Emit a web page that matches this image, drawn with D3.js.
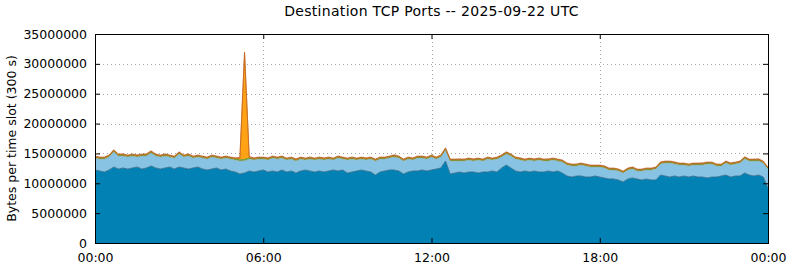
<!DOCTYPE html>
<html><head><meta charset="utf-8">
<script src="https://cdn.jsdelivr.net/npm/d3@7"></script>
<style>body{margin:0;background:#fff} svg{display:block} text{font-family:"DejaVu Sans",sans-serif;fill:#000}</style>
</head><body><svg id="c" width="790" height="267"></svg>
<script>
const title = "Destination TCP Ports -- 2025-09-22 UTC";
const yLabel = "Bytes per time slot (300 s)";
// time of each sample, minutes after 00:00 (10-minute samples)
const slotMinutes = d3.range(0, 1441, 10);
const xTickValues = [0, 360, 720, 1080, 1440];
const xTickLabels = ["00:00", "06:00", "12:00", "18:00", "00:00"];
const yTickValues = [0, 5e6, 10e6, 15e6, 20e6, 25e6, 30e6, 35e6];
const yTickLabels = ["0", "5000000", "10000000", "15000000", "20000000", "25000000", "30000000", "35000000"];
const seriesNames = ["dark", "light", "green", "orange", "red"];

const darkBlue = [
12.23e6,12.06e6,11.89e6,12.23e6,12.73e6,12.39e6,12.56e6,12.39e6,12.56e6,12.73e6,
12.39e6,12.56e6,12.90e6,12.56e6,12.39e6,12.56e6,12.73e6,12.39e6,12.73e6,12.56e6,
12.39e6,12.56e6,12.73e6,12.39e6,12.23e6,12.39e6,12.56e6,12.23e6,12.39e6,12.06e6,
11.89e6,11.56e6,11.72e6,12.06e6,11.89e6,12.06e6,12.23e6,11.89e6,12.06e6,11.89e6,
12.23e6,11.89e6,12.06e6,11.72e6,12.06e6,12.23e6,12.06e6,11.89e6,12.06e6,11.89e6,
12.06e6,12.23e6,12.06e6,12.23e6,11.72e6,11.89e6,12.06e6,12.23e6,12.06e6,11.89e6,
11.39e6,11.89e6,12.06e6,12.23e6,12.23e6,12.06e6,11.56e6,11.89e6,12.06e6,12.06e6,
12.23e6,12.06e6,12.23e6,12.39e6,12.56e6,13.73e6,11.56e6,11.72e6,11.89e6,11.72e6,
11.89e6,11.89e6,11.72e6,11.89e6,11.89e6,12.06e6,11.89e6,12.56e6,13.06e6,12.56e6,
12.06e6,11.89e6,12.06e6,11.89e6,12.06e6,11.89e6,11.89e6,12.06e6,11.89e6,12.06e6,
11.72e6,11.22e6,11.05e6,11.22e6,11.22e6,11.05e6,11.05e6,11.22e6,11.05e6,10.89e6,
10.72e6,10.72e6,10.55e6,10.22e6,10.72e6,10.89e6,10.72e6,10.55e6,10.72e6,10.55e6,
10.55e6,11.39e6,11.22e6,11.05e6,11.22e6,11.05e6,11.22e6,11.05e6,11.22e6,11.05e6,
11.05e6,10.89e6,11.05e6,11.05e6,11.22e6,11.39e6,11.05e6,11.22e6,11.22e6,11.72e6,
11.39e6,11.22e6,11.39e6,11.05e6,9.21e6];

const lightBlue = [
1.99e6,1.99e6,2.16e6,2.16e6,2.50e6,2.17e6,2.00e6,2.00e6,2.00e6,1.66e6,
2.17e6,2.00e6,2.16e6,2.00e6,2.00e6,2.00e6,1.66e6,1.83e6,2.16e6,1.83e6,
2.17e6,1.66e6,1.66e6,1.83e6,1.82e6,2.00e6,1.66e6,1.82e6,1.83e6,1.99e6,
2.00e6,2.16e6,2.05e6,1.99e6,2.00e6,1.99e6,1.82e6,2.00e6,2.16e6,2.16e6,
1.99e6,2.00e6,1.99e6,2.00e6,1.99e6,1.66e6,1.99e6,2.00e6,1.99e6,2.00e6,
1.99e6,1.66e6,2.16e6,1.82e6,2.17e6,2.16e6,1.83e6,1.82e6,1.83e6,2.16e6,
2.33e6,2.16e6,1.99e6,1.99e6,2.16e6,2.16e6,2.16e6,2.16e6,1.83e6,2.16e6,
1.99e6,1.99e6,2.16e6,1.66e6,1.83e6,1.83e6,2.16e6,2.00e6,1.83e6,2.00e6,
2.00e6,1.83e6,2.17e6,1.83e6,2.16e6,1.83e6,2.16e6,1.83e6,1.83e6,2.00e6,
1.99e6,2.00e6,1.66e6,2.00e6,1.66e6,2.00e6,1.83e6,1.66e6,2.00e6,1.66e6,
1.83e6,1.83e6,1.83e6,1.66e6,1.83e6,1.83e6,1.66e6,1.49e6,1.66e6,1.66e6,
1.49e6,1.49e6,1.49e6,1.49e6,1.49e6,1.49e6,1.32e6,1.49e6,1.49e6,1.66e6,
1.83e6,1.83e6,2.16e6,2.33e6,2.00e6,2.00e6,1.83e6,1.83e6,1.83e6,2.00e6,
2.00e6,2.33e6,2.17e6,1.83e6,1.66e6,1.99e6,2.00e6,2.00e6,2.16e6,2.33e6,
2.33e6,2.50e6,2.33e6,2.33e6,3.17e6];

const green = [
0.20e6,0.20e6,0.21e6,0.20e6,0.22e6,0.20e6,0.21e6,0.20e6,0.20e6,0.21e6,
0.20e6,0.21e6,0.22e6,0.20e6,0.20e6,0.21e6,0.20e6,0.20e6,0.22e6,0.20e6,
0.21e6,0.20e6,0.20e6,0.21e6,0.20e6,0.20e6,0.21e6,0.20e6,0.20e6,0.21e6,
0.20e6,0.20e6,0.20e6,0.20e6,0.21e6,0.20e6,0.20e6,0.21e6,0.20e6,0.20e6,
0.21e6,0.20e6,0.20e6,0.21e6,0.20e6,0.20e6,0.21e6,0.20e6,0.20e6,0.21e6,
0.20e6,0.20e6,0.21e6,0.20e6,0.20e6,0.21e6,0.20e6,0.20e6,0.21e6,0.20e6,
0.20e6,0.21e6,0.20e6,0.20e6,0.22e6,0.21e6,0.20e6,0.20e6,0.21e6,0.20e6,
0.20e6,0.21e6,0.20e6,0.20e6,0.21e6,0.22e6,0.20e6,0.20e6,0.21e6,0.20e6,
0.20e6,0.21e6,0.20e6,0.20e6,0.21e6,0.20e6,0.20e6,0.21e6,0.22e6,0.20e6,
0.20e6,0.21e6,0.20e6,0.20e6,0.21e6,0.20e6,0.20e6,0.21e6,0.20e6,0.20e6,
0.21e6,0.20e6,0.20e6,0.21e6,0.20e6,0.20e6,0.21e6,0.20e6,0.20e6,0.21e6,
0.20e6,0.20e6,0.21e6,0.20e6,0.20e6,0.21e6,0.20e6,0.20e6,0.21e6,0.20e6,
0.20e6,0.21e6,0.20e6,0.20e6,0.21e6,0.20e6,0.20e6,0.21e6,0.20e6,0.20e6,
0.21e6,0.20e6,0.20e6,0.21e6,0.20e6,0.20e6,0.21e6,0.20e6,0.20e6,0.22e6,
0.20e6,0.20e6,0.21e6,0.20e6,0.18e6];

const orange = [
0,0,0,0,0,0,0,0,0,0, 0,0,0,0,0,0,0,0,0,0, 0,0,0,0,0,0,0,0,0,0,
0.05e6,0.25e6,17.88e6,0.10e6,0,0,0,0,0,0,
0,0,0,0,0,0,0,0,0,0, 0,0,0,0,0,0,0,0,0,0, 0,0,0,0,0,0,0,0,0,0,
0,0,0,0,0,0,0,0,0,0, 0,0,0,0,0,0,0,0,0,0, 0,0,0,0,0,0,0,0,0,0,
0,0,0,0,0,0,0,0,0,0, 0,0,0,0,0,0,0,0,0,0, 0,0,0,0,0,0,0,0,0,0,
0,0,0,0,0,0,0,0,0,0, 0,0,0,0,0];

const red = [
0.15e6,0.15e6,0.16e6,0.15e6,0.17e6,0.15e6,0.16e6,0.15e6,0.15e6,0.16e6,
0.15e6,0.16e6,0.17e6,0.15e6,0.15e6,0.16e6,0.15e6,0.15e6,0.17e6,0.15e6,
0.16e6,0.15e6,0.15e6,0.16e6,0.15e6,0.15e6,0.16e6,0.15e6,0.15e6,0.16e6,
0.15e6,0.15e6,0.15e6,0.15e6,0.16e6,0.15e6,0.15e6,0.16e6,0.15e6,0.15e6,
0.16e6,0.15e6,0.15e6,0.16e6,0.15e6,0.15e6,0.16e6,0.15e6,0.15e6,0.16e6,
0.15e6,0.15e6,0.16e6,0.15e6,0.15e6,0.16e6,0.15e6,0.15e6,0.16e6,0.15e6,
0.15e6,0.16e6,0.15e6,0.15e6,0.17e6,0.16e6,0.15e6,0.15e6,0.16e6,0.15e6,
0.15e6,0.16e6,0.15e6,0.15e6,0.16e6,0.17e6,0.15e6,0.15e6,0.16e6,0.15e6,
0.15e6,0.16e6,0.15e6,0.15e6,0.16e6,0.15e6,0.15e6,0.16e6,0.17e6,0.15e6,
0.15e6,0.16e6,0.15e6,0.15e6,0.16e6,0.15e6,0.15e6,0.16e6,0.15e6,0.15e6,
0.16e6,0.15e6,0.15e6,0.16e6,0.15e6,0.15e6,0.16e6,0.15e6,0.15e6,0.16e6,
0.15e6,0.15e6,0.16e6,0.15e6,0.15e6,0.16e6,0.15e6,0.15e6,0.16e6,0.15e6,
0.15e6,0.16e6,0.15e6,0.15e6,0.16e6,0.15e6,0.15e6,0.16e6,0.15e6,0.15e6,
0.16e6,0.15e6,0.15e6,0.16e6,0.15e6,0.15e6,0.16e6,0.15e6,0.15e6,0.17e6,
0.15e6,0.15e6,0.16e6,0.15e6,0.13e6];

const fills = {dark:"#0281b4", light:"#89c3e3", green:"#5b9b2e", orange:"#ffa216", red:"#c4552a"};
const strokes = {dark:"#336f8e", light:"#9ab0a8", green:"#5b9b2e", orange:"#c8781a", red:"#c4602c"};
const strokeW = {dark:0.9, light:0.8, green:0.9, orange:0.9, red:0.6};

const table = slotMinutes.map((t, i) => ({t, dark: darkBlue[i], light: lightBlue[i], green: green[i], orange: orange[i], red: red[i]}));

const L = 95, R = 768, T = 34, B = 243;
const svg = d3.select("#c");
const x = d3.scaleLinear().domain([0, 1440]).range([L, R]);
const y = d3.scaleLinear().domain([0, 35e6]).range([B, T]);

// grid
const grid = svg.append("g").attr("stroke", "#a8a8a8").attr("stroke-width", 1).attr("stroke-dasharray", "1,3");
grid.selectAll("line.gy").data(yTickValues.slice(1, -1)).join("line")
  .attr("x1", L).attr("x2", R).attr("y1", d => Math.round(y(d)) + 0.5).attr("y2", d => Math.round(y(d)) + 0.5);
grid.selectAll("line.gx").data(xTickValues.slice(1, -1)).join("line")
  .attr("y1", T).attr("y2", B).attr("x1", d => Math.round(x(d)) + 0.5).attr("x2", d => Math.round(x(d)) + 0.5);

// stacked areas
const stack = d3.stack().keys(seriesNames);
const layers = stack(table);
const area = d3.area().x(d => x(d.data.t)).y0(d => y(d[0])).y1(d => y(d[1]));
const topLine = d3.line().x(d => x(d.data.t)).y(d => y(d[1]));
svg.append("g").selectAll("path").data(layers).join("path")
  .attr("d", area).attr("fill", d => fills[d.key]);
svg.append("g").attr("fill", "none").selectAll("path").data(layers).join("path")
  .attr("d", topLine).attr("stroke", d => strokes[d.key]).attr("stroke-width", d => strokeW[d.key]);

// axes with inward ticks
const fmtX = d => xTickLabels[xTickValues.indexOf(d)];
const fmtY = d => yTickLabels[yTickValues.indexOf(d)];
const styleAxis = g => { g.select(".domain").remove(); g.selectAll("text").style("font-size", "12.5px").style("font-family", "DejaVu Sans, sans-serif"); g.selectAll("line").attr("stroke", "#000"); };
svg.append("g").attr("transform", `translate(0,${B})`)
  .call(d3.axisBottom(x).tickValues(xTickValues).tickFormat(fmtX).tickSize(-5).tickPadding(10)).call(styleAxis);
svg.append("g").attr("transform", `translate(${L},0)`)
  .call(d3.axisLeft(y).tickValues(yTickValues).tickFormat(fmtY).tickSize(-5).tickPadding(8)).call(styleAxis);
svg.append("g").attr("transform", `translate(0,${T})`)
  .call(d3.axisTop(x).tickValues(xTickValues).tickFormat("").tickSize(-5)).call(styleAxis);
svg.append("g").attr("transform", `translate(${R},0)`)
  .call(d3.axisRight(y).tickValues(yTickValues).tickFormat("").tickSize(-5)).call(styleAxis);

// border
svg.append("rect").attr("x", L + 0.5).attr("y", T + 0.5).attr("width", R - L).attr("height", B - T)
  .attr("fill", "none").attr("stroke", "#000").attr("stroke-width", 1);

// title & y label
svg.append("text").attr("x", (L + R) / 2).attr("y", 16).attr("text-anchor", "middle")
  .style("font-size", "14px").style("letter-spacing", "0.3px").text(title);
svg.append("text").attr("transform", `translate(16,${(T + B) / 2}) rotate(-90)`).attr("text-anchor", "middle")
  .style("font-size", "12.5px").text(yLabel);
</script></body></html>
